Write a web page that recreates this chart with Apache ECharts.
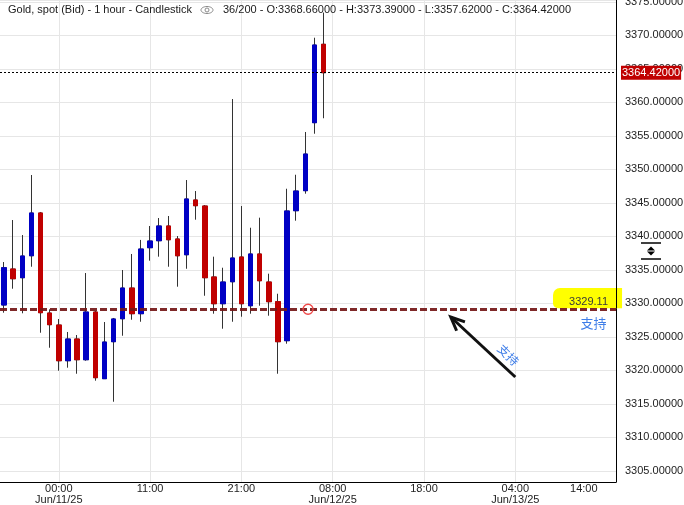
<!DOCTYPE html>
<html><head><meta charset="utf-8">
<script src="https://cdn.jsdelivr.net/npm/echarts@6/dist/echarts.min.js"></script>
<style>html,body{margin:0;padding:0;background:#fff}#c{width:684px;height:505px}</style>
</head><body><div id="c"></div>
<script>
// ---- data ----
const slotCount = 68; // hourly slots on the x axis (36 candles + empty future)
const opens  = [3329.75,3335.12,3333.82,3337.10,3343.48,3328.55,3326.76,3321.43,3324.67,3321.58,3328.70,3318.75,3324.27,3327.70,3332.28,3328.45,3338.30,3339.34,3341.54,3339.60,3337.25,3345.42,3344.52,3333.93,3329.94,3333.22,3336.91,3329.64,3337.36,3333.18,3330.24,3324.42,3343.82,3346.81,3356.96,3368.66];
const closes = [3335.31,3333.67,3337.06,3343.48,3328.60,3326.81,3321.43,3324.67,3321.58,3328.70,3318.90,3324.22,3327.66,3332.28,3328.45,3338.10,3339.30,3341.54,3339.49,3337.10,3345.57,3344.57,3333.82,3329.94,3333.18,3336.76,3329.94,3337.36,3333.37,3330.24,3324.27,3343.78,3346.76,3352.28,3368.55,3364.42];
const lows   = [3328.60,3332.18,3328.51,3335.46,3325.61,3323.37,3319.94,3320.39,3319.49,3321.43,3318.45,3318.75,3315.31,3325.16,3327.55,3327.25,3336.36,3336.96,3335.46,3332.48,3335.16,3342.48,3331.13,3328.45,3326.21,3327.25,3328.00,3328.45,3329.64,3328.15,3319.49,3323.97,3342.33,3346.36,3355.31,3357.62];
const highs  = [3336.16,3342.43,3340.19,3349.15,3343.63,3329.10,3327.66,3325.72,3325.27,3334.52,3328.85,3327.21,3327.81,3334.97,3337.36,3339.46,3341.54,3342.73,3343.03,3340.04,3348.40,3346.76,3344.67,3336.96,3335.31,3360.49,3344.52,3341.28,3342.78,3334.42,3331.43,3347.10,3349.19,3355.57,3369.64,3373.39];
const tickSlots  = [6, 16, 26, 36, 46, 56, 64];
const tickLabels = ['00:00\nJun/11/25', '11:00', '21:00', '08:00\nJun/12/25', '18:00', '04:00\nJun/13/25', '{s|14:00}'];
const gridSlots  = [6, 16, 26, 36, 46, 56];
const yMin = 3303.33, yMax = 3375.27;
const supportLevel = 3329.11;
const supportText = '支持';
const headerTitle = 'Gold, spot (Bid) - 1 hour - Candlestick';
const barCount = 200;
// annotation anchors in data space: [slot, price]
const arrowTail = [56.0, 3319.0];
const arrowTip  = [48.93, 3327.96];
const circleAt  = [33.3, 3329.11];
const arrowTextAt = [55.24, 3322.3];
const supportTextAt = [64.56, 3327.1];
const highlightBox = [[60.13, 3332.3], [67.69, 3329.28]];

const categories = Array.from({length: slotCount}, (_, i) => String(i));
const n = opens.length;
const fullCandles = opens.map((o, i) => [o, closes[i], lows[i], highs[i]]);
const bodyCandles = opens.map((o, i) => [o, closes[i], Math.min(o, closes[i]), Math.max(o, closes[i])]);
const lastPrice = closes[n - 1];

const FONT = "'Liberation Sans', Arial, sans-serif";
const CJK = "'Noto Sans CJK SC', sans-serif";
const UP = '#0000c4', DOWN = '#c00000';

const chart = echarts.init(document.getElementById('c'), null, {renderer: 'canvas'});
const isTick = (i) => tickSlots.indexOf(i) >= 0;
const isGrid = (i) => gridSlots.indexOf(i) >= 0;

chart.setOption({
  animation: false,
  backgroundColor: '#fff',
  grid: [
    // candle grid: slots run a little past the visible plot edge (scrolled chart)
    {left: -0.57, right: 63.7, top: 0, bottom: 23, containLabel: false, outerBoundsMode: 'none'},
    // frame grid: visible plot area with price axis
    {left: 0, right: 68, top: 0, bottom: 23, containLabel: false, outerBoundsMode: 'none'}
  ],
  xAxis: [
    {
      type: 'category', gridIndex: 0, data: categories, boundaryGap: true,
      axisLine: {show: false},
      axisTick: {show: false, interval: isTick, alignWithLabel: true},
      axisLabel: {
        interval: isTick, margin: 1, lineHeight: 11, fontSize: 11, fontFamily: FONT, color: '#222',
        formatter: (v) => { const k = tickSlots.indexOf(Number(v)); return k >= 0 ? tickLabels[k] : ''; },
        rich: {s: {fontSize: 11, fontFamily: FONT, color: '#222', padding: [0, 9, 0, 0]}}
      },
      splitLine: {show: true, interval: isGrid, alignWithLabel: true, lineStyle: {color: '#e6e6e6', width: 1}}
    },
    {
      type: 'value', gridIndex: 1, min: 0, max: 1,
      axisLine: {show: true, onZero: false, lineStyle: {color: '#000', width: 1}},
      axisTick: {show: false}, axisLabel: {show: false}, splitLine: {show: false}
    }
  ],
  yAxis: [
    {type: 'value', gridIndex: 0, min: yMin, max: yMax, show: false, axisLine: {show: false, onZero: false}, splitLine: {show: false}},
    {
      type: 'value', gridIndex: 1, position: 'right', min: yMin, max: yMax, splitNumber: 14,
      axisLine: {show: true, onZero: false, lineStyle: {color: '#000', width: 1}},
      axisTick: {show: false},
      axisLabel: {margin: 9, fontSize: 11, fontFamily: FONT, color: '#222', showMinLabel: false, showMaxLabel: false,
        formatter: (v) => v.toFixed(5)},
      splitLine: {show: true, lineStyle: {color: '#e6e6e6', width: 1}}
    }
  ],
  series: [
    {
      type: 'candlestick', name: 'wick', xAxisIndex: 0, yAxisIndex: 0, data: fullCandles, barWidth: 5, silent: true,
      itemStyle: {color: UP, color0: DOWN, borderColor: '#333', borderColor0: '#333', borderWidth: 1}
    },
    {
      type: 'candlestick', name: 'body', xAxisIndex: 0, yAxisIndex: 0, data: bodyCandles, barWidth: 5, silent: true,
      itemStyle: {color: UP, color0: DOWN, borderColor: UP, borderColor0: DOWN, borderWidth: 1}
    },
    {
      type: 'line', name: 'levels', xAxisIndex: 1, yAxisIndex: 1, data: [], silent: true, symbol: 'none',
      markLine: {
        silent: true, symbol: ['none', 'none'], animation: false,
        data: [
          {yAxis: lastPrice,
           lineStyle: {color: '#000', type: [2, 2], width: 1},
           label: {show: true, position: 'end', distance: 5, formatter: lastPrice.toFixed(5),
             color: '#fff', backgroundColor: DOWN, padding: [2, 1, 1, 1], fontSize: 11, fontFamily: FONT}},
          {yAxis: supportLevel,
           lineStyle: {color: '#741717', type: [7, 3], width: 3, opacity: 0.92},
           label: {show: false}}
        ]
      }
    }
  ]
});

function px(slot, price) {
  const a = chart.convertToPixel({xAxisIndex: 0}, 0);
  const b = chart.convertToPixel({xAxisIndex: 0}, 10);
  return [a + (b - a) * slot / 10, chart.convertToPixel({yAxisIndex: 0}, price)];
}

const tip = px(arrowTip[0], arrowTip[1]);
const tail = px(arrowTail[0], arrowTail[1]);
const ang = Math.atan2(tail[1] - tip[1], tail[0] - tip[0]);
const wing = (d) => [tip[0] + 15 * Math.cos(ang + d), tip[1] + 15 * Math.sin(ang + d)];
const circ = px(circleAt[0], circleAt[1]);
const at = px(arrowTextAt[0], arrowTextAt[1]);
const st = px(supportTextAt[0], supportTextAt[1]);
const hb0 = px(highlightBox[0][0], highlightBox[0][1]);
const hb1 = px(highlightBox[1][0], highlightBox[1][1]);
const supY = chart.convertToPixel({yAxisIndex: 1}, supportLevel);
const plotRight = chart.convertToPixel({xAxisIndex: 1}, 1);

const f5 = (v) => v.toFixed(5);
const headerValues = n + '/' + barCount + ' - O:' + f5(opens[n-1]) + ' - H:' + f5(highs[n-1]) + ' - L:' + f5(lows[n-1]) + ' - C:' + f5(closes[n-1]);

chart.setOption({
  graphic: [
    {type: 'text', left: 8, top: 4, z: 10, style: {text: headerTitle, font: '11px ' + FONT, fill: '#1a1a1a'}},
    {type: 'ellipse', z: 10, shape: {cx: 207, cy: 10, rx: 6, ry: 3.5}, style: {fill: 'none', stroke: '#8a8a8a', lineWidth: 1}},
    {type: 'circle', z: 10, shape: {cx: 207, cy: 10, r: 2}, style: {fill: 'none', stroke: '#8a8a8a', lineWidth: 1}},
    {type: 'text', left: 223, top: 4, z: 10, style: {text: headerValues, font: '11px ' + FONT, fill: '#1a1a1a'}},
    // yellow highlight of support value
    {type: 'rect', z: 1, shape: {x: hb0[0], y: hb0[1], width: hb1[0] - hb0[0], height: hb1[1] - hb0[1], r: [7, 0, 0, 5]},
     style: {fill: '#ffff00'}},
    {type: 'line', z: 1, shape: {x1: plotRight + 0.5, y1: hb0[1], x2: plotRight + 0.5, y2: hb1[1]}, style: {stroke: '#000', lineWidth: 1}},
    {type: 'text', z: 12, style: {text: supportLevel.toFixed(2), x: plotRight - 8, y: supY - 7, align: 'right', verticalAlign: 'middle', font: '11px ' + FONT, fill: '#3a3a3a'}},
    {type: 'text', z: 12, style: {text: supportText, x: st[0], y: st[1], align: 'center', verticalAlign: 'middle', font: '13px ' + CJK, fill: '#3f7ee8'}},
    // hollow red circle on support line
    {type: 'circle', z: 12, shape: {cx: circ[0], cy: circ[1], r: 5}, style: {fill: 'none', stroke: '#f04848', lineWidth: 1.3}},
    // arrow
    {type: 'line', z: 12, shape: {x1: tail[0], y1: tail[1], x2: tip[0], y2: tip[1]}, style: {stroke: '#111', lineWidth: 3}},
    {type: 'polyline', z: 12, shape: {points: [wing(0.42), tip, wing(-0.42)]}, style: {stroke: '#111', lineWidth: 3, fill: 'none', lineJoin: 'miter'}},
    {type: 'text', z: 12, x: at[0], y: at[1], rotation: -0.78,
     style: {text: supportText, x: 0, y: 0, align: 'center', verticalAlign: 'middle', font: '12px ' + CJK, fill: '#3f7ee8'}},
    // axis zoom icon
    {type: 'line', z: 10, shape: {x1: 641, y1: 243, x2: 661, y2: 243}, style: {stroke: '#000', lineWidth: 1.5}},
    {type: 'line', z: 10, shape: {x1: 641, y1: 259, x2: 661, y2: 259}, style: {stroke: '#000', lineWidth: 1.5}},
    {type: 'polygon', z: 10, shape: {points: [[651, 246.5], [647, 250.5], [655, 250.5]]}, style: {fill: '#000'}},
    {type: 'polygon', z: 10, shape: {points: [[647, 251.5], [655, 251.5], [651, 255.5]]}, style: {fill: '#000'}}
  ]
});
</script></body></html>
